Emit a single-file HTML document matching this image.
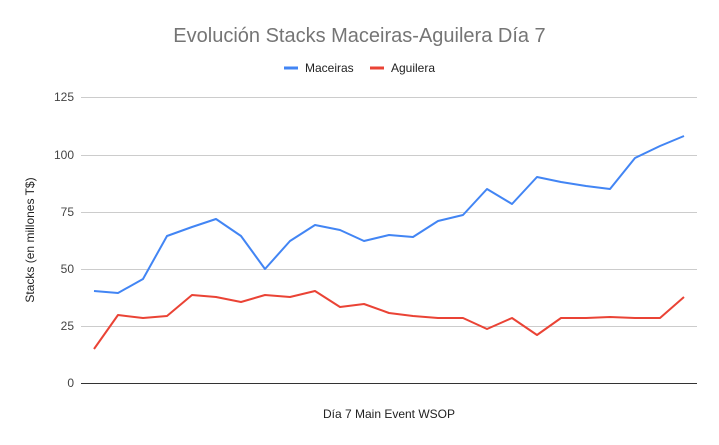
<!DOCTYPE html>
<html><head><meta charset="utf-8"><style>
body{margin:0;background:#fff;}
svg{display:block;font-family:"Liberation Sans",Arial,sans-serif;}
</style></head><body>
<svg width="719" height="445" viewBox="0 0 719 445">
<rect width="719" height="445" fill="#fff"/>
<text x="359.5" y="42" text-anchor="middle" font-size="20" fill="#757575">Evolución Stacks Maceiras-Aguilera Día 7</text>
<line x1="284" y1="68" x2="298" y2="68" stroke="#4285f4" stroke-width="3"/>
<text x="305" y="72" font-size="12" fill="#222">Maceiras</text>
<line x1="370" y1="68" x2="384" y2="68" stroke="#ea4335" stroke-width="3"/>
<text x="391" y="72" font-size="12" fill="#222">Aguilera</text>
<g stroke="#cccccc" stroke-width="1">
<line x1="81" y1="97.5" x2="697" y2="97.5"/>
<line x1="81" y1="155.5" x2="697" y2="155.5"/>
<line x1="81" y1="212.5" x2="697" y2="212.5"/>
<line x1="81" y1="269.5" x2="697" y2="269.5"/>
<line x1="81" y1="326.5" x2="697" y2="326.5"/>
</g>
<line x1="81" y1="383.5" x2="697" y2="383.5" stroke="#333" stroke-width="1"/>
<g font-size="12" fill="#444" text-anchor="end">
<text x="74" y="101">125</text>
<text x="74" y="159">100</text>
<text x="74" y="216">75</text>
<text x="74" y="273">50</text>
<text x="74" y="330">25</text>
<text x="74" y="387">0</text>
</g>
<text transform="translate(34,240) rotate(-90)" text-anchor="middle" font-size="12" fill="#222">Stacks (en millones T$)</text>
<text x="389" y="418" text-anchor="middle" font-size="12" fill="#222">Día 7 Main Event WSOP</text>
<polyline fill="none" stroke="#4285f4" stroke-width="2" stroke-linejoin="round" points="94,291 118,293 143,279 167,236 192,227 216,219 241,236 265,269 290,241 315,225 340,230 364,241 389,235 413,237 438,221 463,215 487,189 512,204 537,177 561,182 586,186 610,189 635,158 660,146 684,136"/>
<polyline fill="none" stroke="#ea4335" stroke-width="2" stroke-linejoin="round" points="94,349 118,315 143,318 167,316 192,295 216,297 241,302 265,295 290,297 315,291 340,307 364,304 389,313 413,316 438,318 463,318 487,329 512,318 537,335 561,318 586,318 610,317 635,318 660,318 684,297"/>
</svg>
</body></html>
